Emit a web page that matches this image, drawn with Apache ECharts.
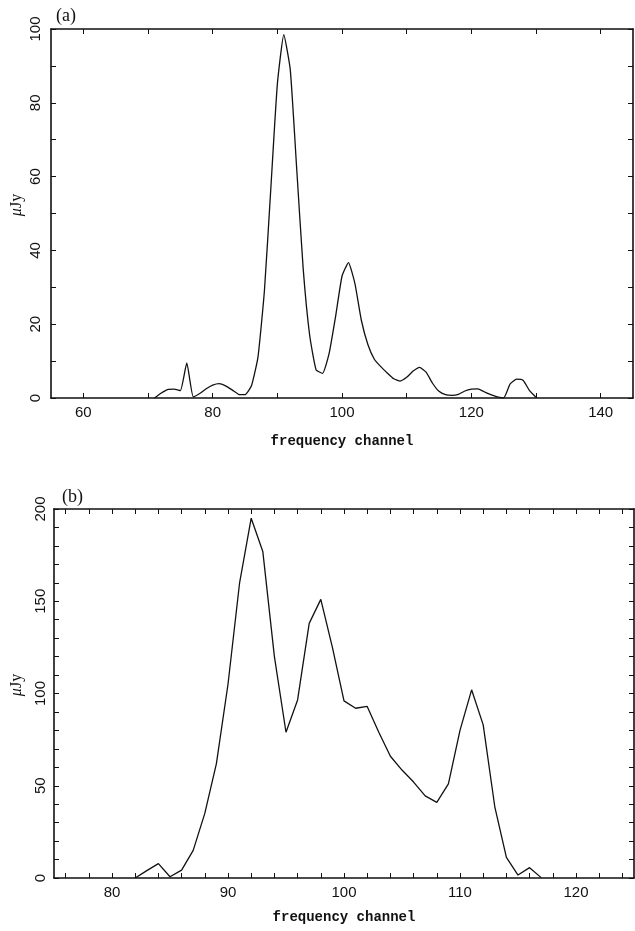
<!DOCTYPE html>
<html>
<head>
<meta charset="utf-8">
<script src="https://cdn.jsdelivr.net/npm/echarts@6/dist/echarts.min.js"></script>
<style>
html,body{margin:0;padding:0;background:#fff;}
#chart{width:635px;height:931px;}
</style>
</head>
<body>
<div id="chart"></div>
<script>
// Panel (a)
const chanA = [71,72,73,74,75,76,77,78,79,80,81,82,83,84,85,86,87,88,89,90,91,92,93,94,95,96,97,98,99,100,101,102,103,104,105,106,107,108,109,110,111,112,113,114,115,116,117,118,119,120,121,122,123,124,125,126,127,128,129,130];
const valsA = [0,1.3,2.3,2.4,2.0,9.5,0.3,1.2,2.5,3.5,3.9,3.3,2.2,1.0,0.9,3.3,11,29,57,85,98.5,89,62,35,17,7.6,6.7,12,22,33,36.7,31,21,14.5,10.5,8.5,6.8,5.2,4.6,5.6,7.3,8.3,7.0,4.0,1.8,0.9,0.7,1.0,1.9,2.4,2.5,1.7,0.9,0.3,0.0,3.8,5.1,4.8,2.0,0.2];
const xTicksA = [60,70,80,90,100,110,120,130,140];
const xLabelsA = [60,80,100,120,140];
const yTicksA = [0,10,20,30,40,50,60,70,80,90,100];
const yLabelsA = [0,20,40,60,80,100];

// Panel (b)
const chanB = [82,83,84,85,86,87,88,89,90,91,92,93,94,95,96,97,98,99,100,101,102,103,104,105,106,107,108,109,110,111,112,113,114,115,116,117];
const valsB = [0,4,7.8,0.7,4.3,15,35,62,105,160,195,177,120,79,96.5,138,151,125,96,92,93,79,66,58.5,52,44.5,41,51,80,102,83,38.6,11.2,1.6,5.6,0.2];
const xTicksB = [76,78,80,82,84,86,88,90,92,94,96,98,100,102,104,106,108,110,112,114,116,118,120,122,124];
const xLabelsB = [80,90,100,110,120];
const yTicksB = [0,10,20,30,40,50,60,70,80,90,100,110,120,130,140,150,160,170,180,190,200];
const yLabelsB = [0,50,100,150,200];

const chart = echarts.init(document.getElementById('chart'), null, {renderer:'canvas'});
const black = '#111';
const lineStyle = {color: black, width: 1.6};
const tickFont = {fontFamily: 'Liberation Sans', fontSize: 15, color: black};

function xAx(grid, min, max, ticks, labels, pos, showLabel, margin, nameGap) {
  const a = {
    type: 'value', gridIndex: grid, min: min, max: max, position: pos,
    axisLine: {show: true, onZero: false, lineStyle: lineStyle},
    axisTick: {show: true, inside: true, length: 5, customValues: ticks, lineStyle: {color: black, width: 1}},
    axisLabel: {show: showLabel, customValues: labels, margin: margin, ...tickFont},
    splitLine: {show: false}
  };
  if (showLabel) {
    a.name = 'frequency channel';
    a.nameLocation = 'middle';
    a.nameGap = nameGap;
    a.nameTextStyle = {fontFamily: 'Liberation Mono', fontWeight: 'bold', fontSize: 14, color: black};
  }
  return a;
}
function yAx(grid, min, max, ticks, labels, pos, showLabel, margin) {
  return {
    type: 'value', gridIndex: grid, min: min, max: max, position: pos,
    axisLine: {show: true, onZero: false, lineStyle: lineStyle},
    axisTick: {show: true, inside: true, length: 5, customValues: ticks, lineStyle: {color: black, width: 1}},
    axisLabel: {show: showLabel, customValues: labels, rotate: 90, margin: margin, ...tickFont},
    splitLine: {show: false}
  };
}

const option = {
  backgroundColor: '#fff',
  animation: false,
  grid: [
    {left: 51, top: 29, right: 2, bottom: 533, containLabel: false},
    {left: 54, top: 509, right: 1, bottom: 53, containLabel: false}
  ],
  xAxis: [
    xAx(0, 55, 145, xTicksA, xLabelsA, 'bottom', true, 7, 36),
    xAx(0, 55, 145, xTicksA, xLabelsA, 'top', false, 7, 0),
    xAx(1, 75, 125, xTicksB, xLabelsB, 'bottom', true, 7, 32),
    xAx(1, 75, 125, xTicksB, xLabelsB, 'top', false, 7, 0)
  ],
  yAxis: [
    yAx(0, 0, 100, yTicksA, yLabelsA, 'left', true, 8),
    yAx(0, 0, 100, yTicksA, yLabelsA, 'right', false, 8),
    yAx(1, 0, 200, yTicksB, yLabelsB, 'left', true, 6),
    yAx(1, 0, 200, yTicksB, yLabelsB, 'right', false, 6)
  ],
  series: [
    {
      type: 'line', xAxisIndex: 0, yAxisIndex: 0, showSymbol: false, smooth: 0.15,
      lineStyle: {color: black, width: 1.3},
      data: chanA.map((c, i) => [c, valsA[i]])
    },
    {
      type: 'line', xAxisIndex: 2, yAxisIndex: 2, showSymbol: false,
      lineStyle: {color: black, width: 1.3},
      data: chanB.map((c, i) => [c, valsB[i]])
    }
  ],
  graphic: [
    {type: 'text', left: 56, top: 7, style: {text: '(a)', fontFamily: 'Liberation Serif', fontSize: 18, fill: black}},
    {type: 'text', left: 62, top: 488, style: {text: '(b)', fontFamily: 'Liberation Serif', fontSize: 18, fill: black}},
    {type: 'text', x: 17, y: 205, rotation: Math.PI / 2,
      style: {text: '{i|μ}Jy', align: 'center', verticalAlign: 'middle', fontFamily: 'Liberation Serif', fontSize: 16, fill: black,
        rich: {i: {fontStyle: 'italic', fontFamily: 'Liberation Serif', fontSize: 16}}}},
    {type: 'text', x: 17, y: 685, rotation: Math.PI / 2,
      style: {text: '{i|μ}Jy', align: 'center', verticalAlign: 'middle', fontFamily: 'Liberation Serif', fontSize: 16, fill: black,
        rich: {i: {fontStyle: 'italic', fontFamily: 'Liberation Serif', fontSize: 16}}}}
  ]
};
chart.setOption(option);
</script>
</body>
</html>
